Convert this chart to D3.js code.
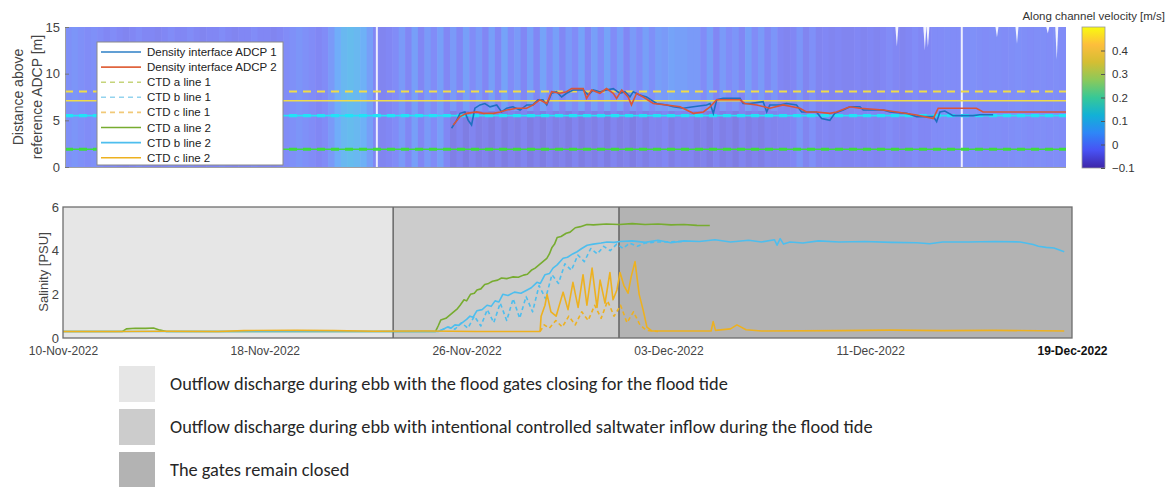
<!DOCTYPE html>
<html>
<head>
<meta charset="utf-8">
<script src="https://cdn.jsdelivr.net/npm/d3@7"></script>
<style>
  body { margin: 0; background: #fff; }
  svg { display: block; }
  text { font-family: "Liberation Sans", Arial, Helvetica, sans-serif; }
</style>
</head>
<body>
<script>
// time axis: days since 10-Nov-2022
const startDate = new Date(2022, 10, 10);
const endDate = new Date(2022, 11, 19);
const tickDays = [0, 7.8, 15.6, 23.4, 31.2, 39];
const tickLabels = ["10-Nov-2022", "18-Nov-2022", "26-Nov-2022", "03-Dec-2022", "11-Dec-2022", "19-Dec-2022"];

// velocity field (m/s), columns of 0.25 day
const colDays = 0.25;
const velUpper = [
  -0.01, 0.0, -0.01, -0.02, -0.01, -0.02,
  -0.03, -0.02, -0.03, -0.035, -0.03, -0.02, -0.03, -0.03, -0.035, -0.03, -0.02, -0.03,
  -0.03, -0.02, -0.03, -0.035, -0.03, -0.03, -0.02, -0.03, -0.035, -0.03, -0.03, -0.02,
  -0.03, -0.03, -0.035, -0.03, -0.02, -0.01, 0.0, -0.01, -0.02, -0.03, -0.02, 0.01,
  0.05, 0.08, 0.09, 0.08, 0.06, 0.02,
  -0.03, -0.035, -0.03, -0.02,
  0.01, -0.03, 0.02, -0.03, 0.01, -0.02, 0.02, -0.03,
  0.01, -0.03, 0.02, -0.02, 0.01, -0.03, 0.02, -0.03,
  0.03, -0.02, 0.01, -0.03, 0.02, -0.03, 0.03, -0.02,
  0.02, -0.03, 0.01, -0.02, 0.03, -0.03, 0.02, -0.02,
  0.03, -0.02, 0.02, -0.03, 0.01, -0.02, 0.02, -0.01,
  0.02, 0.01, 0.03, 0.02, 0.02, 0.01, 0.01, -0.02,
  0.02, -0.03, 0.01, -0.02, 0.0, -0.03, 0.02, -0.02,
  0.01, -0.03, 0.0, -0.03,
  -0.035, -0.03, 0.0, -0.035, -0.01, -0.035, -0.03, -0.035, -0.03, -0.035, -0.035, -0.03,
  -0.035, -0.03, -0.035, -0.03, -0.02, -0.03, -0.035, -0.03, -0.02, -0.03, -0.03, -0.02,
  -0.02, -0.015, -0.02, -0.02, -0.015, -0.01, -0.015, -0.02, -0.015, -0.015,
  -0.02, -0.015, -0.01, -0.015, -0.02, -0.015, -0.015, -0.02, -0.015, -0.02
];
// near-bed layer between day 15 and 28 (streaky, below layerSplit)
const lowerStartCol = 60;
const velLowerStreaks = [
  -0.05, -0.035, -0.055, -0.035, -0.05, -0.04, -0.055, -0.035, -0.055, -0.04, -0.05, -0.035, -0.055,
  -0.04, -0.055, -0.035, -0.05, -0.04, -0.055, -0.035, -0.055, -0.04, -0.05, -0.035, -0.055, -0.035,
  -0.05, -0.04, -0.055, -0.035, -0.05, -0.035, -0.04, -0.03, -0.05, -0.035, -0.04, -0.035, -0.05,
  -0.04, -0.055, -0.035, -0.05, -0.04, -0.055, -0.035, -0.05, -0.04, -0.05, -0.035, -0.04, -0.035
];
const layerSplit = 6;
const nanColumns = [12.15, 34.94];
const nanSpikes = [[32.41, 12.9], [33.5, 12.5], [33.62, 12.8], [36.31, 13.9], [37.09, 13.2], [38.29, 14.3], [38.64, 11.5]];
const velTicks = [-0.1, 0, 0.1, 0.2, 0.3, 0.4];

// density interface height (m) [day, height]
const adcp1 = [[15.06,4.15],[15.26,5.0],[15.39,5.75],[15.58,5.9],[15.71,5.0],[15.84,4.5],[15.97,6.3],[16.17,6.65],[16.36,6.8],[16.56,6.45],[16.82,6.65],[17.01,5.9],[17.21,6.3],[17.45,6.45],[17.73,6.1],[17.99,6.65],[18.23,6.65],[18.43,7.2],[18.62,7.2],[18.77,6.65],[18.96,7.9],[19.15,8.07],[19.35,7.5],[19.54,7.9],[19.8,8.25],[20.19,8.25],[20.39,7.7],[20.58,8.25],[20.84,8.07],[21.1,8.25],[21.36,8.4],[21.62,7.9],[21.82,8.07],[22.01,7.5],[22.14,8.07],[22.4,7.7],[22.66,7.5],[23.05,6.8],[23.44,6.65],[23.7,6.45],[24.09,6.3],[24.48,6.45],[25.0,6.65],[25.13,6.8],[25.26,5.75],[25.39,7.2],[25.64,7.35],[26.3,7.35],[26.42,6.8],[26.69,6.8],[27.2,7.0],[27.34,5.9],[27.46,6.65],[27.85,6.65],[28.11,6.8],[28.5,6.65],[28.7,5.9],[29.28,5.9],[29.48,5.2],[29.8,5.0],[29.99,5.75],[30.32,6.1],[30.58,6.45],[30.97,6.45],[31.1,6.1],[31.88,6.1],[32.14,5.9],[32.79,5.75],[33.18,5.4],[33.83,5.4],[33.96,4.85],[34.09,5.9],[34.28,6.0],[34.6,5.5],[35.38,5.5],[35.64,5.6],[36.16,5.6]];
const adcp2 = [[15.13,4.5],[15.39,5.4],[15.65,5.75],[16.04,5.9],[16.3,5.75],[16.69,5.75],[16.95,5.9],[17.21,6.1],[17.6,6.3],[17.99,6.3],[18.24,6.65],[18.5,7.2],[18.77,6.8],[18.96,8.07],[19.28,7.9],[19.54,8.07],[19.74,8.4],[20.19,8.4],[20.32,7.35],[20.52,8.25],[20.84,7.9],[21.1,8.4],[21.36,7.9],[21.49,7.35],[21.69,8.25],[21.94,7.5],[22.07,6.65],[22.27,7.9],[22.53,7.5],[22.92,6.8],[23.44,6.65],[23.96,6.45],[24.48,5.75],[24.87,5.9],[25.13,6.45],[25.39,7.2],[26.3,7.2],[26.49,6.8],[26.95,6.65],[27.46,6.3],[27.98,6.65],[28.63,6.3],[28.89,5.9],[29.28,5.9],[29.8,5.75],[30.06,5.9],[30.58,6.45],[30.97,6.3],[31.88,6.1],[32.4,5.9],[33.18,5.57],[33.83,5.2],[34.02,6.3],[35.51,6.3],[35.77,5.9],[39.0,5.9]];

// CTD sensor heights above reference (m): a, b, c
const ctdNames = ["a", "b", "c"];
const ctdHeightLine1 = [1.9, 5.5, 8.1];
const ctdHeightLine2 = [1.9, 5.5, 7.1];

// salinity (PSU) [day, value]
const salA2 = [[0,0.3],[2.3,0.3],[2.45,0.42],[2.8,0.45],[3.2,0.44],[3.5,0.46],[3.75,0.36],[4,0.3],[14.4,0.3],[14.5,0.55],[14.6,0.82],[14.8,0.9],[14.95,1.05],[15.1,1.2],[15.25,1.35],[15.35,1.5],[15.5,1.75],[15.6,1.7],[15.75,2.0],[15.9,2.05],[16.0,2.2],[16.15,2.25],[16.3,2.45],[16.45,2.5],[16.6,2.6],[16.8,2.65],[16.95,2.75],[17.15,2.72],[17.4,2.8],[17.6,2.78],[17.8,2.88],[17.95,2.92],[18.1,3.1],[18.25,3.2],[18.4,3.35],[18.55,3.5],[18.7,3.65],[18.8,3.85],[18.9,4.15],[19.0,4.3],[19.1,4.6],[19.25,4.65],[19.45,4.8],[19.6,4.85],[19.8,5.05],[20.0,5.1],[20.25,5.2],[20.5,5.18],[21.0,5.22],[21.5,5.2],[22,5.24],[22.5,5.2],[23,5.22],[23.5,5.18],[24,5.2],[24.5,5.16],[25.0,5.15]];
const salB1 = [[14.6,0.35],[14.9,0.5],[15.15,0.4],[15.4,0.7],[15.65,0.45],[15.9,1.0],[16.15,0.55],[16.4,1.3],[16.65,0.7],[16.9,1.6],[17.15,0.8],[17.4,1.8],[17.65,0.9],[17.9,1.9],[18.15,1.2],[18.4,2.4],[18.65,1.8],[18.9,2.9],[19.15,2.5],[19.4,3.4],[19.65,3.1],[19.9,3.8],[20.15,3.5],[20.4,4.1],[20.65,3.85],[20.9,4.2],[21.15,4.0],[21.4,4.3],[21.65,4.1],[21.9,4.35],[22.2,4.2],[22.5,4.35],[23,4.4],[24,4.42]];
const salB2 = [[0,0.3],[14.5,0.3],[14.7,0.4],[14.85,0.5],[15.0,0.45],[15.15,0.6],[15.3,0.58],[15.46,0.73],[15.6,0.85],[15.73,1.0],[15.85,0.95],[16.0,1.25],[16.2,1.3],[16.39,1.5],[16.55,1.45],[16.7,1.7],[16.85,1.65],[17.0,2.0],[17.2,1.95],[17.45,2.1],[17.7,2.05],[17.94,2.2],[18.1,2.3],[18.32,2.55],[18.45,2.5],[18.63,2.9],[18.8,2.95],[18.94,3.2],[19.1,3.35],[19.33,3.65],[19.5,3.7],[19.7,3.85],[19.87,3.95],[20.05,4.1],[20.26,4.25],[20.5,4.3],[20.8,4.35],[21.03,4.4],[21.3,4.38],[21.53,4.42],[22,4.45],[22.5,4.38],[23,4.48],[23.5,4.36],[24,4.45],[24.6,4.42],[25.2,4.5],[25.8,4.4],[26.5,4.48],[27.0,4.4],[27.5,4.5],[27.6,4.25],[27.72,4.55],[27.85,4.3],[28.1,4.4],[28.6,4.35],[29.2,4.45],[30,4.4],[31,4.42],[32,4.38],[33,4.36],[33.5,4.32],[34,4.4],[35,4.4],[36,4.42],[37,4.4],[37.5,4.28],[37.7,4.2],[38,4.15],[38.3,4.12],[38.7,3.95]];
const salC1 = [[18.44,0.3],[18.6,0.6],[18.8,0.45],[19.05,0.8],[19.3,0.5],[19.55,1.0],[19.8,0.6],[20.05,1.2],[20.3,0.8],[20.55,1.5],[20.8,0.9],[21.05,1.7],[21.3,1.0],[21.55,1.5],[21.8,0.7],[22.05,1.2],[22.3,0.6],[22.55,0.35],[23,0.3]];
const salC2 = [[0,0.3],[2,0.3],[4,0.31],[6,0.3],[7,0.34],[9,0.35],[10.5,0.34],[12,0.31],[14,0.32],[16,0.3],[18.44,0.3],[18.48,1.0],[18.63,1.5],[18.71,2.0],[18.86,1.2],[19.06,1.0],[19.33,2.1],[19.52,1.3],[19.71,2.55],[19.91,1.4],[20.1,2.9],[20.25,1.5],[20.45,3.2],[20.64,1.4],[20.76,2.65],[20.95,1.6],[21.14,3.0],[21.26,1.75],[21.41,2.2],[21.53,3.0],[21.68,2.4],[21.84,2.05],[21.96,2.8],[22.11,3.5],[22.27,2.0],[22.42,1.3],[22.57,0.5],[22.77,0.32],[25.05,0.32],[25.13,0.75],[25.22,0.35],[25.8,0.42],[26.05,0.6],[26.4,0.38],[27,0.32],[30,0.34],[32,0.36],[34,0.34],[36,0.35],[38.7,0.32]];
const salTicks = [0, 2, 4, 6];

// gate operation phases
const phaseBounds = [0, 12.76, 21.49, 39];
const phaseLabels = [
  "Outflow discharge during ebb with the flood gates closing for the flood tide",
  "Outflow discharge during ebb with intentional controlled saltwater inflow during the flood tide",
  "The gates remain closed"
];

// styles
const phaseFills = ["#e6e6e6", "#cccccc", "#b3b3b3"];
const parula = ["#3e26a8", "#4852f4", "#2e87f7", "#12b1d6", "#37c897", "#8cc95a", "#d4be33", "#fdbe3c", "#f9fb0e"];
const ctdColors = ["#77ac30", "#4dbeee", "#edb120"];
const ctdLevelColors = ["#3edc3e", "#22e2f6", "#efdc48"];
const ctdLegend1 = ["#c5d47a", "#93d3ee", "#f1c978"];

const toDate = d => new Date(startDate.getTime() + d * 864e5);

const svg = d3.select("body").append("svg").attr("width", 1169).attr("height", 487);

// ---------- top panel ----------
const xTop = d3.scaleTime().domain([startDate, endDate]).range([65, 1066]);
const yTop = d3.scaleLinear().domain([0, 15]).range([167, 27]);
const velColor = d3.scaleLinear()
  .domain(parula.map((c, i) => -0.1 + i * 0.6 / (parula.length - 1)))
  .range(parula);

svg.append("clipPath").attr("id", "topClip")
  .append("rect").attr("x", 65).attr("y", 27).attr("width", 1001).attr("height", 140);

const topPlot = svg.append("g").attr("clip-path", "url(#topClip)");

let cells = velUpper.flatMap((v, i) => {
  let lower = i >= lowerStartCol && i < lowerStartCol + velLowerStreaks.length
    ? velLowerStreaks[i - lowerStartCol] : v;
  return [
    { d0: i * colDays, d1: (i + 1) * colDays, h0: layerSplit, h1: 15, v: v },
    { d0: i * colDays, d1: (i + 1) * colDays, h0: 0, h1: layerSplit, v: lower }
  ];
});

topPlot.append("g").attr("opacity", 0.68)
  .selectAll("rect").data(cells).enter().append("rect")
  .attr("x", d => xTop(toDate(d.d0)))
  .attr("width", d => xTop(toDate(d.d1)) - xTop(toDate(d.d0)) + 0.6)
  .attr("y", d => yTop(d.h1))
  .attr("height", d => yTop(d.h0) - yTop(d.h1))
  .attr("fill", d => velColor(d.v));

topPlot.selectAll(".nanCol").data(nanColumns).enter().append("rect")
  .attr("x", d => xTop(toDate(d)) - 1).attr("width", 2)
  .attr("y", yTop(15)).attr("height", yTop(0) - yTop(15))
  .attr("fill", "#fff").attr("opacity", 0.85);

topPlot.selectAll(".spike").data(nanSpikes).enter().append("path")
  .attr("d", d => {
    let x0 = xTop(toDate(d[0]));
    return `M${x0 - 1.5},${yTop(15)}L${x0 + 1.5},${yTop(15)}L${x0},${yTop(d[1])}Z`;
  })
  .attr("fill", "#fff").attr("opacity", 0.9);

// CTD heights
ctdNames.forEach((n, i) => {
  topPlot.append("line")
    .attr("x1", 65).attr("x2", 1066)
    .attr("y1", yTop(ctdHeightLine2[i])).attr("y2", yTop(ctdHeightLine2[i]))
    .attr("stroke", ctdLevelColors[i]).attr("stroke-width", 1.6);
  topPlot.append("line")
    .attr("x1", 65).attr("x2", 1066)
    .attr("y1", yTop(ctdHeightLine1[i])).attr("y2", yTop(ctdHeightLine1[i]))
    .attr("stroke", ctdLevelColors[i]).attr("stroke-width", i === 2 ? 2 : 3.2)
    .attr("stroke-dasharray", "8,6");
});

let topLine = d3.line().x(d => xTop(toDate(d[0]))).y(d => yTop(d[1]));
topPlot.append("path").attr("d", topLine(adcp1)).attr("fill", "none")
  .attr("stroke", "#1f6fc0").attr("stroke-width", 1.6);
topPlot.append("path").attr("d", topLine(adcp2)).attr("fill", "none")
  .attr("stroke", "#d9553a").attr("stroke-width", 1.6);

// top axes
svg.append("line").attr("x1", 65).attr("x2", 1066).attr("y1", 167.5).attr("y2", 167.5)
  .attr("stroke", "#a0a0a0");
svg.append("line").attr("x1", 65.5).attr("x2", 65.5).attr("y1", 27).attr("y2", 168)
  .attr("stroke", "#a0a0a0");

let yTopAxis = svg.append("g").attr("transform", "translate(65,0)")
  .call(d3.axisLeft(yTop).tickValues([0, 5, 10, 15]).tickSizeInner(-4).tickSizeOuter(0).tickPadding(5));
yTopAxis.select(".domain").remove();
yTopAxis.selectAll("line").attr("stroke", "#777");
yTopAxis.selectAll("text").attr("font-size", 13).attr("fill", "#444");

svg.append("text")
  .attr("transform", "translate(18,97) rotate(-90)")
  .attr("text-anchor", "middle").attr("dy", "0.35em")
  .attr("font-size", 14).attr("fill", "#444")
  .text("Distance above");
svg.append("text")
  .attr("transform", "translate(37,97) rotate(-90)")
  .attr("text-anchor", "middle").attr("dy", "0.35em")
  .attr("font-size", 14).attr("fill", "#444")
  .text("reference ADCP [m]");

// top legend
const legendItems = [
  { label: "Density interface ADCP 1", color: "#2d7fc6", dash: null },
  { label: "Density interface ADCP 2", color: "#e0643e", dash: null }
].concat(ctdNames.map((n, i) => ({ label: `CTD ${n} line 1`, color: ctdLegend1[i], dash: "5,4" })))
 .concat(ctdNames.map((n, i) => ({ label: `CTD ${n} line 2`, color: ctdColors[i], dash: null })));

let lg = svg.append("g");
lg.append("rect").attr("x", 97).attr("y", 42).attr("width", 186).attr("height", 123)
  .attr("fill", "#fff").attr("stroke", "#8a8a8a");
let lgItem = lg.selectAll(".item").data(legendItems).enter().append("g")
  .attr("transform", (d, i) => `translate(0, ${52 + i * 15.1})`);
lgItem.append("line").attr("x1", 101).attr("x2", 141)
  .attr("stroke", d => d.color).attr("stroke-width", 1.6)
  .attr("stroke-dasharray", d => d.dash);
lgItem.append("text").attr("x", 147).attr("dy", "0.35em")
  .attr("font-size", 11.5).attr("fill", "#222").text(d => d.label);

// colorbar
let grad = svg.append("defs").append("linearGradient").attr("id", "velGrad")
  .attr("x1", 0).attr("x2", 0).attr("y1", 1).attr("y2", 0);
grad.selectAll("stop").data(parula).enter().append("stop")
  .attr("offset", (d, i) => i / (parula.length - 1))
  .attr("stop-color", d => d);
const cScale = d3.scaleLinear().domain([-0.1, 0.5]).range([168, 27]);
svg.append("rect").attr("x", 1082).attr("y", 27).attr("width", 23).attr("height", 141)
  .attr("fill", "url(#velGrad)").attr("stroke", "#999").attr("stroke-width", 0.8);
let cAxis = svg.append("g").attr("transform", "translate(1105,0)")
  .call(d3.axisRight(cScale).tickValues(velTicks).tickFormat(d3.format("")).tickSizeInner(-4).tickSizeOuter(0).tickPadding(7));
cAxis.select(".domain").remove();
cAxis.selectAll("line").attr("stroke", "#555");
cAxis.selectAll("text").attr("font-size", 11.5).attr("fill", "#333");
svg.append("text").attr("x", 1165).attr("y", 16).attr("dy", "0.35em")
  .attr("text-anchor", "end").attr("font-size", 11.5).attr("fill", "#333")
  .text("Along channel velocity [m/s]");

// ---------- bottom panel ----------
const xBot = d3.scaleTime().domain([startDate, endDate]).range([63, 1072]);
const ySal = d3.scaleLinear().domain([0, 6]).range([338, 207]);

svg.selectAll(".phase").data(phaseLabels).enter().append("rect")
  .attr("x", (d, i) => xBot(toDate(phaseBounds[i])))
  .attr("width", (d, i) => xBot(toDate(phaseBounds[i + 1])) - xBot(toDate(phaseBounds[i])))
  .attr("y", ySal(6)).attr("height", ySal(0) - ySal(6))
  .attr("fill", (d, i) => phaseFills[i]);

svg.selectAll(".phaseSep").data(phaseBounds.slice(1, -1)).enter().append("line")
  .attr("x1", d => xBot(toDate(d))).attr("x2", d => xBot(toDate(d)))
  .attr("y1", ySal(6)).attr("y2", ySal(0))
  .attr("stroke", "#555").attr("stroke-width", 1.3);

let salLine = d3.line().x(d => xBot(toDate(d[0]))).y(d => ySal(d[1]));
const salSeries = [
  { data: salA2, color: ctdColors[0], dash: null },
  { data: salB1, color: ctdColors[1], dash: "4,3" },
  { data: salB2, color: ctdColors[1], dash: null },
  { data: salC1, color: ctdColors[2], dash: "4,3" },
  { data: salC2, color: ctdColors[2], dash: null }
];
svg.append("g").selectAll("path").data(salSeries).enter().append("path")
  .attr("d", d => salLine(d.data))
  .attr("fill", "none").attr("stroke", d => d.color)
  .attr("stroke-width", 1.6).attr("stroke-dasharray", d => d.dash)
  .attr("stroke-linejoin", "round");

svg.append("rect").attr("x", 63).attr("y", 207).attr("width", 1009).attr("height", 131)
  .attr("fill", "none").attr("stroke", "#6e6e6e").attr("stroke-width", 1.3);

let ySalAxis = svg.append("g").attr("transform", "translate(63,0)")
  .call(d3.axisLeft(ySal).tickValues(salTicks).tickFormat(d3.format("d")).tickSize(0).tickPadding(4));
ySalAxis.select(".domain").remove();
ySalAxis.selectAll("text").attr("font-size", 13).attr("fill", "#444");

let xAxis = svg.append("g").attr("transform", "translate(0,338)")
  .call(d3.axisBottom(xBot).tickValues(tickDays.map(toDate))
    .tickFormat((d, i) => tickLabels[i]).tickSize(0).tickPadding(8));
xAxis.select(".domain").remove();
xAxis.selectAll("text").attr("font-size", 12).attr("fill", "#444")
  .filter((d, i) => i === tickLabels.length - 1)
  .attr("font-weight", "bold").attr("fill", "#111");

svg.append("text")
  .attr("transform", "translate(43,272) rotate(-90)")
  .attr("text-anchor", "middle").attr("dy", "0.35em")
  .attr("font-size", 13).attr("fill", "#444")
  .text("Salinity [PSU]");

// ---------- phase legend ----------
let pl = svg.append("g").selectAll("g").data(phaseLabels).enter().append("g")
  .attr("transform", (d, i) => `translate(119, ${366 + i * 43})`);
pl.append("rect").attr("width", 36).attr("height", 36).attr("fill", (d, i) => phaseFills[i]);
let plText = pl.append("text").attr("x", 51).attr("y", 18).attr("dy", "0.35em")
  .attr("fill", "#262626")
  .style("font-family", "Carlito, 'Liberation Sans Narrow', 'Open Sans', sans-serif")
  .attr("font-size", 16).text(d => d);
// fit first line to its width in the picture
let w0 = plText.node().getComputedTextLength();
plText.attr("font-size", 16 * 558 / w0);
</script>
</body>
</html>
